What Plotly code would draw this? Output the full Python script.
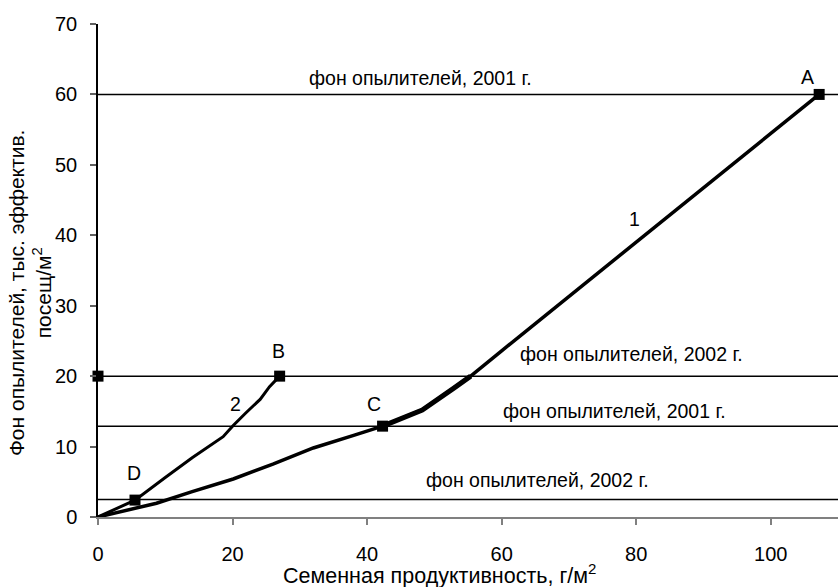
import plotly.graph_objects as go

# Curve 1 (seed productivity vs pollinator background)
curve1_x = [0, 5.5, 8.7, 14, 20.1, 26, 32, 38, 42.3, 48.2, 52.9, 55.4, 60, 70, 80, 90, 100, 107.2]
curve1_y = [0, 1.25, 1.95, 3.6, 5.4, 7.5, 9.8, 11.6, 12.9, 15.2, 18.3, 20.0, 23.6, 31.3, 39.0, 46.6, 54.3, 60]
# Curve 2
curve2_x = [0, 5.5, 10, 14, 18.6, 20.1, 22, 24.1, 25.5, 27]
curve2_y = [0, 2.4, 5.6, 8.4, 11.4, 13.0, 14.8, 16.7, 18.5, 20]
# Marked points
pts_x = [107.2, 27, 42.3, 5.5, 0]
pts_y = [60, 20, 12.9, 2.4, 20]
# Background levels
hlines = [60, 20, 12.9, 2.5]

X_MAX = 110

fig = go.Figure()
for h in hlines:
    fig.add_trace(go.Scatter(x=[0, X_MAX], y=[h, h], mode="lines",
                             line=dict(color="black", width=1.5), showlegend=False, hoverinfo="skip"))

fig.add_trace(go.Scatter(x=curve1_x, y=curve1_y, mode="lines",
                         line=dict(color="black", width=3.5), showlegend=False))
fig.add_trace(go.Scatter(x=curve1_x[8:12], y=curve1_y[8:12], mode="lines",
                         line=dict(color="black", width=5), showlegend=False))
fig.add_trace(go.Scatter(x=curve2_x, y=curve2_y, mode="lines",
                         line=dict(color="black", width=3), showlegend=False))
fig.add_trace(go.Scatter(x=pts_x, y=pts_y, mode="markers",
                         marker=dict(symbol="square", size=11, color="black"),
                         showlegend=False, cliponaxis=False))

F = "Liberation Sans, Arial, sans-serif"
labels = [
    ("фон опылителей, 2001 г.", 47.9, 62.4),
    ("A", 105.5, 62.5),
    ("1", 79.8, 42.3),
    ("фон опылителей, 2002 г.", 79.3, 23.2),
    ("B", 26.9, 23.5),
    ("2", 20.4, 16.1),
    ("C", 41.1, 16.1),
    ("фон опылителей, 2001 г.", 76.8, 15.0),
    ("D", 5.4, 6.3),
    ("фон опылителей, 2002 г.", 65.3, 5.3),
]
annotations = [dict(x=x, y=y, text=t, showarrow=False, xref="x", yref="y",
                    font=dict(family=F, size=19.5, color="black"),
                    xanchor="center", yanchor="middle") for t, x, y in labels]
annotations.append(dict(x=-0.092, y=0.456, xref="paper", yref="paper",
                        text="Фон опылителей, тыс. эффектив.<br>посещ/м<sup>2</sup>",
                        textangle=-90, showarrow=False,
                        font=dict(family=F, size=21, color="black"),
                        xanchor="center", yanchor="middle"))
annotations.append(dict(x=0.462, y=-0.116, xref="paper", yref="paper",
                        text="Семенная продуктивность, г/м<sup>2</sup>",
                        showarrow=False,
                        font=dict(family=F, size=21.5, color="black"),
                        xanchor="center", yanchor="middle"))

fig.update_layout(
    width=840, height=587,
    margin=dict(l=98, r=2, t=24, b=70),
    paper_bgcolor="white", plot_bgcolor="white",
    font=dict(family=F, size=20, color="black"),
    annotations=annotations,
    xaxis=dict(range=[0, X_MAX], tickvals=[0, 20, 40, 60, 80, 100],
               showgrid=False, zeroline=False, showline=True, linecolor="#808080", linewidth=1.5,
               ticks="outside", ticklen=6, tickcolor="#808080", tickwidth=1.5,
               ticklabelstandoff=12,
               tickfont=dict(family=F, size=20)),
    yaxis=dict(range=[0, 70], tickvals=[0, 10, 20, 30, 40, 50, 60, 70],
               showgrid=False, zeroline=False, showline=True, linecolor="black", linewidth=1.5,
               ticks="outside", ticklen=6, tickcolor="#606060", tickwidth=1.5,
               ticklabelstandoff=9,
               tickfont=dict(family=F, size=20)),
)

fig.write_html("out.html", post_script="document.body.style.margin='0';",
               config={"displayModeBar": False})
